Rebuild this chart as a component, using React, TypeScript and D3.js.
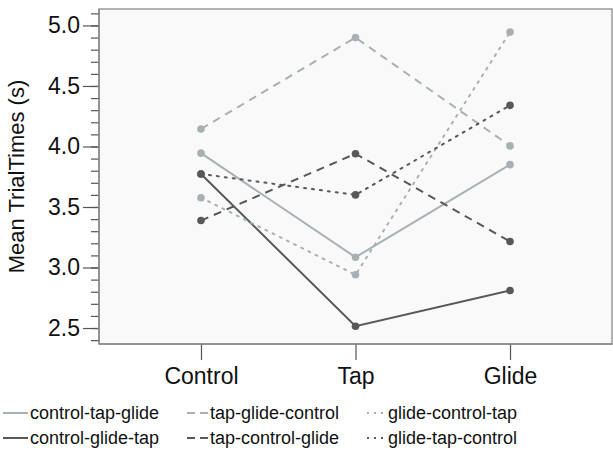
import React, { useEffect, useRef } from "react";
import * as d3 from "d3";

const conditions = ["Control", "Tap", "Glide"];
const seriesNames = [
  "control-tap-glide",
  "control-glide-tap",
  "tap-glide-control",
  "tap-control-glide",
  "glide-control-tap",
  "glide-tap-control",
];
const controlTapGlide = [3.945, 3.085, 3.85];
const controlGlideTap = [3.773, 2.515, 2.81];
const tapGlideControl = [4.145, 4.9, 4.005];
const tapControlGlide = [3.388, 3.94, 3.215];
const glideControlTap = [3.577, 2.94, 4.945];
const glideTapControl = [3.773, 3.6, 4.34];
const seriesValues = [
  controlTapGlide,
  controlGlideTap,
  tapGlideControl,
  tapControlGlide,
  glideControlTap,
  glideTapControl,
];
const yTicks = [2.5, 3.0, 3.5, 4.0, 4.5, 5.0];

const LIGHT = "#a9b0b4";
const DARK = "#55595b";
const colors = [LIGHT, DARK, LIGHT, DARK, LIGHT, DARK];
const dashes = ["none", "none", "8,6", "8,6", "2,6", "2,6"];

const App = () => {
  const svgRef = useRef<SVGSVGElement>(null);

  useEffect(() => {
    const svg = d3.select(svgRef.current);
    svg.selectAll("*").remove();
    const left = 99;
    const right = 612;
    const top = 9;
    const bottom = 344;
    const font = "Liberation Sans, Arial, sans-serif";

    const x = d3.scalePoint().domain(conditions).range([left, right]).padding(0.66);
    const y = d3.scaleLinear().domain([2.368, 5.136]).range([bottom, top]);

    svg
      .append("rect")
      .attr("x", left)
      .attr("y", top)
      .attr("width", right - left)
      .attr("height", bottom - top)
      .attr("fill", "#f9f9f9")
      .attr("stroke", "#999")
      .attr("stroke-width", 1.5);

    // minor ticks every 0.1
    svg
      .append("g")
      .attr("transform", `translate(${left},0)`)
      .call(
        d3
          .axisLeft(y)
          .tickValues(d3.range(24, 52).map((d) => d / 10))
          .tickSize(8)
          .tickFormat(() => "")
      )
      .call((g) => g.select(".domain").remove())
      .selectAll("line")
      .attr("stroke", "#555")
      .attr("stroke-width", 1.2);

    svg
      .append("g")
      .attr("transform", `translate(${left},0)`)
      .call(d3.axisLeft(y).tickValues(yTicks).tickSize(16).tickPadding(3).tickFormat(d3.format(".1f")))
      .call((g) => g.select(".domain").remove())
      .call((g) => g.selectAll("line").attr("stroke", "#555").attr("stroke-width", 1.2))
      .call((g) =>
        g.selectAll("text").attr("font-family", font).attr("font-size", 23).attr("fill", "#111")
      );

    svg
      .append("g")
      .attr("transform", `translate(0,${bottom})`)
      .call(d3.axisBottom(x).tickSize(16).tickPadding(8))
      .call((g) => g.select(".domain").remove())
      .call((g) => g.selectAll("line").attr("stroke", "#555").attr("stroke-width", 1.2))
      .call((g) =>
        g.selectAll("text").attr("font-family", font).attr("font-size", 23).attr("fill", "#111")
      );

    svg
      .append("line")
      .attr("x1", left)
      .attr("x2", right)
      .attr("y1", bottom)
      .attr("y2", bottom)
      .attr("stroke", "#888")
      .attr("stroke-width", 1.5);
    svg
      .append("line")
      .attr("x1", left)
      .attr("x2", left)
      .attr("y1", top)
      .attr("y2", bottom)
      .attr("stroke", "#888")
      .attr("stroke-width", 1.5);

    svg
      .append("text")
      .attr("transform", `translate(24,${(top + bottom) / 2}) rotate(-90)`)
      .attr("text-anchor", "middle")
      .attr("font-family", font)
      .attr("font-size", 22)
      .attr("fill", "#111")
      .text("Mean TrialTimes (s)");

    const line = d3
      .line<number>()
      .x((_, i) => x(conditions[i]) as number)
      .y((d) => y(d));

    seriesValues.forEach((vals, s) => {
      svg
        .append("path")
        .attr("d", line(vals))
        .attr("fill", "none")
        .attr("stroke", colors[s])
        .attr("stroke-width", 2)
        .attr("stroke-dasharray", dashes[s])
        .attr("stroke-linecap", dashes[s] === "2,6" ? "round" : "butt");
      svg
        .selectAll(null)
        .data(vals)
        .enter()
        .append("circle")
        .attr("cx", (_, i) => x(conditions[i]) as number)
        .attr("cy", (d) => y(d))
        .attr("r", 3.8)
        .attr("fill", colors[s]);
    });

    // legend
    const colX = [3, 187, 367];
    const lens = [25, 21, 19];
    const rowY = [413, 438];
    seriesNames.forEach((name, s) => {
      const col = Math.floor(s / 2);
      const row = s % 2;
      const g = svg.append("g").attr("transform", `translate(${colX[col]},${rowY[row]})`);
      const len = lens[col];
      g.append("line")
        .attr("x1", 0)
        .attr("x2", len)
        .attr("y1", 0)
        .attr("y2", 0)
        .attr("stroke", colors[s])
        .attr("stroke-width", 2)
        .attr("stroke-dasharray", col === 1 ? "8,5" : col === 2 ? "2,5" : "none");
      g.append("text")
        .attr("x", len + 2)
        .attr("y", 0)
        .attr("dy", "0.35em")
        .attr("font-family", font)
        .attr("font-size", 18)
        .attr("fill", "#111")
        .text(name);
    });
  }, []);

  return <svg ref={svgRef} width={613} height={452} style={{ position: "absolute", left: 0, top: 0 }} />;
};

export default App;
